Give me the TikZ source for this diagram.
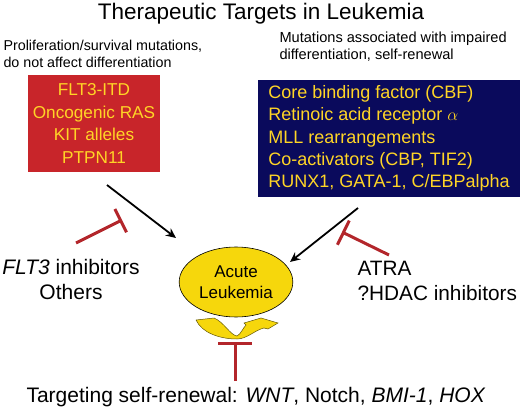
\documentclass[tikz,border=0pt]{standalone}
\usepackage{fontspec}
\setmainfont{Liberation Sans}
\usetikzlibrary{arrows.meta,shapes.geometric}
\definecolor{boxred}{HTML}{C8252A}
\definecolor{boxblue}{HTML}{0A0A5C}
\definecolor{txtyellow}{HTML}{FFD526}
\definecolor{leukyellow}{HTML}{F6D70C}
\definecolor{inhred}{HTML}{B3262B}
\newcommand{\fs}[2]{\fontsize{#1}{#2}\selectfont}
\tikzset{
	mutbox/.style={draw=none,text=txtyellow,inner sep=0pt},
	pushto/.style={line width=1.8pt,-{Stealth[length=10pt,width=9pt]}},
	inhib/.style={inhred,line width=3pt,-{Bar[width=#1,line width=3pt]}},
	inhib/.default=26pt
}
\begin{document}
\begin{tikzpicture}[x=1pt,y=-1pt,>=stealth]
	\useasboundingbox (0,0) rectangle (520,412);
	% headings
	\node[font=\fs{22.5}{26}] (title) at (261,14) {Therapeutic Targets in Leukemia};
	\node[anchor=west,align=left,font=\fs{14.3}{17}] (subl) at (0,53.5) {Proliferation/survival mutations,\\ do not affect differentiation};
	\node[anchor=west,align=left,font=\fs{14.6}{17}] (subr) at (276,46.5) {Mutations associated with impaired\\ differentiation, self-renewal};
	% mutation boxes
	\node[mutbox,fill=boxred,minimum width=132,minimum height=97,align=center,font=\fs{17.2}{22.6}] (prolif) at (94,123.5)
		{FLT3-ITD\\ Oncogenic RAS\\ KIT alleles\\ PTPN11};
	\node[mutbox,fill=boxblue,minimum width=262,minimum height=117,align=left,font=\fs{18}{22.3}] (diff) at (389,138.5)
		{Core binding factor (CBF)\\ Retinoic acid receptor $\alpha$\\ MLL rearrangements\\ Co-activators (CBP, TIF2)\\ RUNX1, GATA-1, C/EBPalpha};
	% leukemia
	\node[ellipse,draw,line width=0.6pt,fill=leukyellow,minimum width=113,minimum height=70,align=center,font=\fs{17}{21}] (aml) at (236,282)
		{Acute\\ Leukemia};
	% self-renewal loop
	\filldraw[fill=leukyellow,draw=black!60!leukyellow,line width=0.5pt] (196,320) -- (214,318)
		.. controls (224,322) and (230,335) .. (237,336) .. controls (241,334) and (243,328) .. (246,325)
		-- (244,323) -- (261,318) -- (278,323) -- (268,329) -- (264,328)
		.. controls (255,330) and (247,339) .. (237,339) .. controls (220,339) and (202,333) .. (196,320) -- cycle;
	% drugs
	\node[align=center,font=\fs{21}{25}] (flt) at (71,279.5) {\textit{FLT3} inhibitors\\ Others};
	\node[anchor=west,align=left,font=\fs{20.8}{25}] (atra) at (354,280.5) {ATRA\\ ?HDAC inhibitors};
	\node[font=\fs{21}{24}] (selfren) at (256,397) {Targeting self-renewal: \textit{WNT}, Notch, \textit{BMI-1}, \textit{HOX}};
	% connectors
	\coordinate (p1) at (107,185); \coordinate (p2) at (176,238);
	\coordinate (d1) at (358,208); \coordinate (d2) at (290,262);
	\coordinate (i1) at (76,243);  \coordinate (i2) at (122,220);
	\coordinate (j1) at (389,255); \coordinate (j2) at (342,232);
	\coordinate (k1) at (235,381); \coordinate (k2) at (235,342);
	\draw[pushto] (p1)--(p2);
	\draw[pushto] (d1)--(d2);
	\draw[inhib] (i1)--(i2);
	\draw[inhib=27pt] (j1)--(j2);
	\draw[inhib=34pt] (k1)--(k2);
\end{tikzpicture}
\end{document}
